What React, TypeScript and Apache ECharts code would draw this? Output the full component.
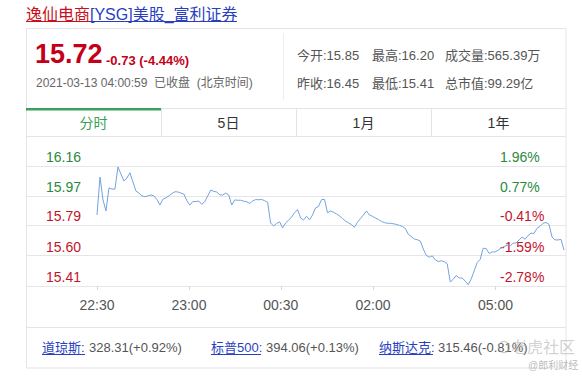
import React, { useEffect, useRef } from "react";
import * as echarts from "echarts";

// ---- data ----
const PRICES = [
  15.854, 16.091, 15.948, 15.879, 16.023, 16.016, 16.016, 16.154, 16.11, 16.066,
  16.085, 16.118, 16.06, 16.004, 15.991, 15.973, 15.968, 15.973, 15.979, 15.973,
  15.951, 15.916, 15.952, 15.96, 15.973, 15.988, 15.999, 15.998, 15.991, 15.985,
  15.944, 15.916, 15.938, 15.938, 15.941, 15.921, 15.937, 15.973, 16.01, 16.001,
  15.998, 15.979, 15.979, 15.991, 15.979, 15.916, 15.948, 15.946, 15.946, 15.94,
  15.937, 15.926, 15.941, 15.95, 15.949, 15.951, 15.943, 15.933, 15.804, 15.785,
  15.801, 15.811, 15.773, 15.804, 15.821, 15.841, 15.868, 15.888, 15.835, 15.823,
  15.846, 15.823, 15.854, 15.898, 15.907, 15.95, 15.951, 15.868, 15.879, 15.871,
  15.861, 15.848, 15.832, 15.816, 15.805, 15.794, 15.777, 15.808, 15.831, 15.854,
  15.879, 15.854, 15.846, 15.835, 15.826, 15.814, 15.806, 15.802, 15.802, 15.799,
  15.795, 15.789, 15.782, 15.769, 15.733, 15.719, 15.704, 15.699, 15.691, 15.641,
  15.601, 15.59, 15.598, 15.573, 15.563, 15.568, 15.562, 15.548, 15.435, 15.452,
  15.476, 15.46, 15.46, 15.441, 15.418, 15.454, 15.505, 15.556, 15.576, 15.646,
  15.644, 15.613, 15.623, 15.623, 15.634, 15.647, 15.657, 15.663, 15.659, 15.678,
  15.679, 15.698, 15.716, 15.702, 15.726, 15.74, 15.739, 15.771, 15.783, 15.802,
  15.807, 15.795, 15.716, 15.698, 15.698, 15.701, 15.635,
];

const Y_TICKS = [15.41, 15.6, 15.79, 15.97, 16.16];
const Y_LABELS = ["15.41", "15.60", "15.79", "15.97", "16.16"];
const PCT_LABELS = ["-2.78%", "-1.59%", "-0.41%", "0.77%", "1.96%"];
const X_TICK_POS = [0, 30.7, 61.4, 92.2, 133.1];
const X_TICK_LABELS = ["22:30", "23:00", "00:30", "02:00", "05:00"];

const TITLE_RED = "逸仙电商";
const TITLE_BLUE = "[YSG]美股_富利证券";
const LAST_PRICE = "15.72";
const CHANGE = "-0.73 (-4.44%)";
const DATE_LINE = "2021-03-13 04:00:59  已收盘  (北京时间)";
const STATS_ROW1 = ["今开:15.85", "最高:16.20", "成交量:565.39万"];
const STATS_ROW2 = ["昨收:16.45", "最低:15.41", "总市值:99.29亿"];
const TABS = ["分时", "5日", "1月", "1年"];
const INDEX_NAMES = ["道琼斯:", "标普500:", "纳斯达克:"];
const INDEX_VALUES = ["328.31(+0.92%)", "394.06(+0.13%)", "315.46(-0.81%)"];

const FONT = '"Liberation Sans", Arial, "Noto Sans CJK SC", sans-serif';
const GREEN = "#2b8a40";
const RED = "#c4142c";
const BORDER = "#e4e4e4";

const T = (x: number, y: number, text: string, fontSize: number, fill: string, extra: any = {}) => ({
  type: "text",
  x,
  y,
  silent: true,
  style: { text, fontSize, fill, fontFamily: FONT, verticalAlign: "middle", align: "left", ...extra },
});
const L = (x1: number, y1: number, x2: number, y2: number, stroke: string, lineWidth = 1) => ({
  type: "line",
  silent: true,
  shape: { x1, y1, x2, y2 },
  style: { stroke, lineWidth },
});

export default function App() {
  const ref = useRef<HTMLDivElement>(null);
  useEffect(() => {
    if (!ref.current) return;
    const chart = echarts.init(ref.current, undefined, { renderer: "svg" });

    const lastIdx = PRICES.length - 1;
    const pxPerStep = 467 / lastIdx;
    const xMin = -71 / pxPerStep;
    const xMax = lastIdx + 2 / pxPerStep;

    const tabW = 135;
    const graphics: any[] = [
      // title
      T(26, 14, TITLE_RED, 16, "#c8101c"),
      T(90, 14, TITLE_BLUE, 16, "#2a3fc0"),
      L(26, 21.5, 90, 21.5, "#c8101c"),
      L(90, 21.5, 237, 21.5, "#2a3fc0"),
      // card
      { type: "rect", silent: true, shape: { x: 26.5, y: 28.5, width: 539.5, height: 339.5 }, style: { fill: "none", stroke: BORDER, lineWidth: 1 } },
      // header
      T(35, 54, LAST_PRICE, 27, "#c40018", { fontWeight: "bold" }),
      T(106, 60, CHANGE, 13, "#c40018", { fontWeight: "bold" }),
      T(36, 83, DATE_LINE, 12, "#666"),
      L(283.5, 33, 283.5, 100, "#eeeeee"),
      ...STATS_ROW1.map((s, i) => T([297, 372, 445][i], 55, s, 13, "#555")),
      ...STATS_ROW2.map((s, i) => T([297, 372, 445][i], 83, s, 13, "#555")),
      L(26, 108.5, 566, 108.5, BORDER),
      // tabs
      ...TABS.map((s, i) => T(26 + tabW * i + tabW / 2, 123, s, 14, i === 0 ? "#3a9f5a" : "#333", { align: "center" })),
      ...[1, 2, 3].map((i) => L(26 + tabW * i + 0.5, 109, 26 + tabW * i + 0.5, 136, BORDER)),
      { type: "rect", silent: true, shape: { x: 26, y: 108, width: tabW, height: 2.5 }, style: { fill: "#3aa05a" } },
      L(26, 136.5, 566, 136.5, BORDER),
      // footer
      L(26, 327.5, 566, 327.5, BORDER),
      ...INDEX_NAMES.map((s, i) => T([42, 211, 379][i], 347, s, 13, "#2a3fc0")),
      ...[[42, 85], [211, 261], [379, 433]].map(([a, b]) => L(a, 354.5, b, 354.5, "#2a3fc0")),
      ...INDEX_VALUES.map((s, i) => T([89, 266, 438][i], 347, s, 13, "#555")),
      // watermark
      { type: "circle", silent: true, shape: { cx: 504, cy: 347, r: 5.5 }, style: { fill: "none", stroke: "rgba(170,170,170,0.6)", lineWidth: 1.2 } },
      T(511, 347, "老虎社区", 16, "rgba(170,170,170,0.55)"),
      T(528, 365, "@郎利财经", 10, "rgba(170,170,170,0.8)"),
    ];

    const labelColor = (v: any) => {
      const idx = Y_TICKS.findIndex((t) => Math.abs(t - Number(v)) < 1e-6);
      return idx >= 3 ? GREEN : RED;
    };

    chart.setOption({
      animation: false,
      grid: { left: 26, right: 16, top: 136, bottom: 92, containLabel: false },
      xAxis: {
        type: "value",
        min: xMin,
        max: xMax,
        axisLine: { show: false },
        splitLine: { show: false },
        axisTick: { show: true, length: 4, lineStyle: { color: "#d8d8d8" }, customValues: X_TICK_POS },
        axisLabel: {
          customValues: X_TICK_POS,
          margin: 12,
          fontSize: 14,
          color: "#555",
          fontFamily: FONT,
          formatter: (v: number) => {
            const i = X_TICK_POS.findIndex((p) => Math.abs(p - v) < 1e-6);
            return i >= 0 ? X_TICK_LABELS[i] : "";
          },
        },
      },
      yAxis: [
        {
          type: "value",
          min: 15.41,
          max: 16.16 + 30 / 160,
          position: "left",
          axisLine: { show: false },
          axisTick: { show: false, customValues: Y_TICKS },
          splitLine: { show: true, lineStyle: { color: "#e6e6e6", width: 1 } },
          axisLabel: {
            customValues: Y_TICKS,
            inside: true,
            margin: 20,
            align: "left",
            verticalAlign: "bottom",
            padding: [0, 0, 2, 0],
            fontSize: 14,
            fontFamily: FONT,
            color: labelColor,
            formatter: (v: number) => {
              const i = Y_TICKS.findIndex((t) => Math.abs(t - v) < 1e-6);
              return i >= 0 ? Y_LABELS[i] : "";
            },
          },
        },
        {
          type: "value",
          min: 15.41,
          max: 16.16 + 30 / 160,
          position: "right",
          axisLine: { show: false },
          axisTick: { show: false, customValues: Y_TICKS },
          splitLine: { show: false },
          axisLabel: {
            customValues: Y_TICKS,
            inside: true,
            margin: 66,
            align: "left",
            verticalAlign: "bottom",
            padding: [0, 0, 2, 0],
            fontSize: 14,
            fontFamily: FONT,
            color: labelColor,
            formatter: (v: number) => {
              const i = Y_TICKS.findIndex((t) => Math.abs(t - v) < 1e-6);
              return i >= 0 ? PCT_LABELS[i] : "";
            },
          },
        },
      ],
      series: [
        {
          type: "line",
          data: PRICES.map((p, i) => [i, p]),
          showSymbol: false,
          symbol: "none",
          lineStyle: { color: "#74a2e0", width: 1 },
          z: 5,
        },
      ],
      graphic: graphics,
    });
    return () => chart.dispose();
  }, []);
  return (
    <div
      ref={ref}
      style={{ position: "absolute", left: 0, top: 0, width: 582, height: 378, background: "#fff" }}
    />
  );
}
